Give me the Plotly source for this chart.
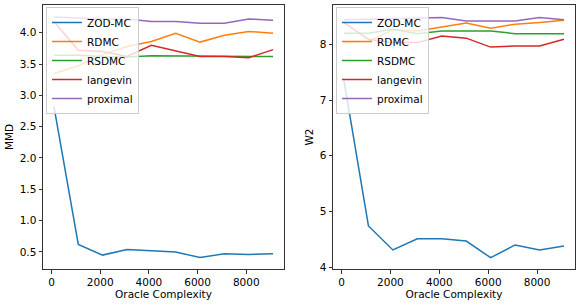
import plotly.graph_objects as go

oracle = [100, 1100, 2100, 3100, 4100, 5100, 6100, 7100, 8100, 9100]
methods = ["ZOD-MC", "RDMC", "RSDMC", "langevin", "proximal"]
colors = ["#1f77b4", "#ff7f0e", "#2ca02c", "#d62728", "#9467bd"]

mmd = {
    "ZOD-MC":   [2.82, 0.62, 0.45, 0.54, 0.52, 0.50, 0.41, 0.47, 0.46, 0.47],
    "RDMC":     [3.35, 3.47, 3.65, 3.78, 3.86, 3.99, 3.85, 3.96, 4.02, 3.99],
    "RSDMC":    [3.64, 3.64, 3.62, 3.61, 3.63, 3.63, 3.63, 3.62, 3.62, 3.62],
    "langevin": [4.18, 3.72, 3.70, 3.62, 3.80, 3.71, 3.62, 3.62, 3.60, 3.73],
    "proximal": [4.25, 4.23, 4.22, 4.22, 4.18, 4.18, 4.15, 4.15, 4.22, 4.20],
}
w2 = {
    "ZOD-MC":   [7.35, 4.74, 4.31, 4.51, 4.51, 4.47, 4.17, 4.40, 4.31, 4.38],
    "RDMC":     [8.03, 8.05, 8.26, 8.24, 8.31, 8.38, 8.29, 8.36, 8.39, 8.43],
    "RSDMC":    [8.20, 8.20, 8.27, 8.19, 8.24, 8.24, 8.24, 8.19, 8.19, 8.19],
    "langevin": [8.39, 8.09, 8.03, 8.03, 8.15, 8.11, 7.95, 7.97, 7.97, 8.09],
    "proximal": [8.44, 8.45, 8.46, 8.48, 8.48, 8.42, 8.42, 8.42, 8.48, 8.44],
}

W, H = 581, 306
fig = go.Figure()
for m, c in zip(methods, colors):
    fig.add_trace(go.Scatter(x=oracle, y=mmd[m], mode="lines", name=m,
                             line=dict(color=c, width=1.5), xaxis="x", yaxis="y",
                             legend="legend"))
for m, c in zip(methods, colors):
    fig.add_trace(go.Scatter(x=oracle, y=w2[m], mode="lines", name=m,
                             line=dict(color=c, width=1.5), xaxis="x2", yaxis="y2",
                             legend="legend2"))

font = dict(family="DejaVu Sans", size=10.5, color="black")
axcommon = dict(showline=True, mirror=True, linecolor="#333", linewidth=1,
                ticks="outside", ticklen=3.5, tickwidth=1, tickcolor="#333",
                showgrid=False, zeroline=False, tickfont=font, automargin=False)
ydom = [1 - 269 / H, 1 - 5 / H]
fig.update_layout(
    width=W, height=H, margin=dict(l=0, r=0, t=0, b=0, autoexpand=False),
    paper_bgcolor="white", plot_bgcolor="white", font=font,
    xaxis=dict(domain=[43 / W, 284 / W], range=[-350, 9550],
               tickvals=[0, 2000, 4000, 6000, 8000], anchor="y",
               title=dict(text="Oracle Complexity", font=font, standoff=0), **axcommon),
    yaxis=dict(domain=ydom, range=[0.228, 4.442], anchor="x",
               tickvals=[0.5, 1.0, 1.5, 2.0, 2.5, 3.0, 3.5, 4.0], tickformat=".1f",
               title=dict(text="MMD", font=font, standoff=4), **axcommon),
    xaxis2=dict(domain=[333 / W, 575 / W], range=[-350, 9550],
                tickvals=[0, 2000, 4000, 6000, 8000], anchor="y2",
                title=dict(text="Oracle Complexity", font=font, standoff=0), **axcommon),
    yaxis2=dict(domain=ydom, range=[3.968, 8.705], anchor="x2",
                tickvals=[4, 5, 6, 7, 8],
                title=dict(text="W2", font=font, standoff=4), **axcommon),
    legend=dict(x=46 / W, y=1 - 7 / H, xanchor="left", yanchor="top",
                bgcolor="rgba(255,255,255,0.8)", bordercolor="#cccccc", borderwidth=1,
                font=font),
    legend2=dict(x=336 / W, y=1 - 7 / H, xanchor="left", yanchor="top",
                 bgcolor="rgba(255,255,255,0.8)", bordercolor="#cccccc", borderwidth=1,
                 font=font),
)
fig.write_html("out.html", config={"displayModeBar": False},
               post_script="document.body.style.margin='0';")
